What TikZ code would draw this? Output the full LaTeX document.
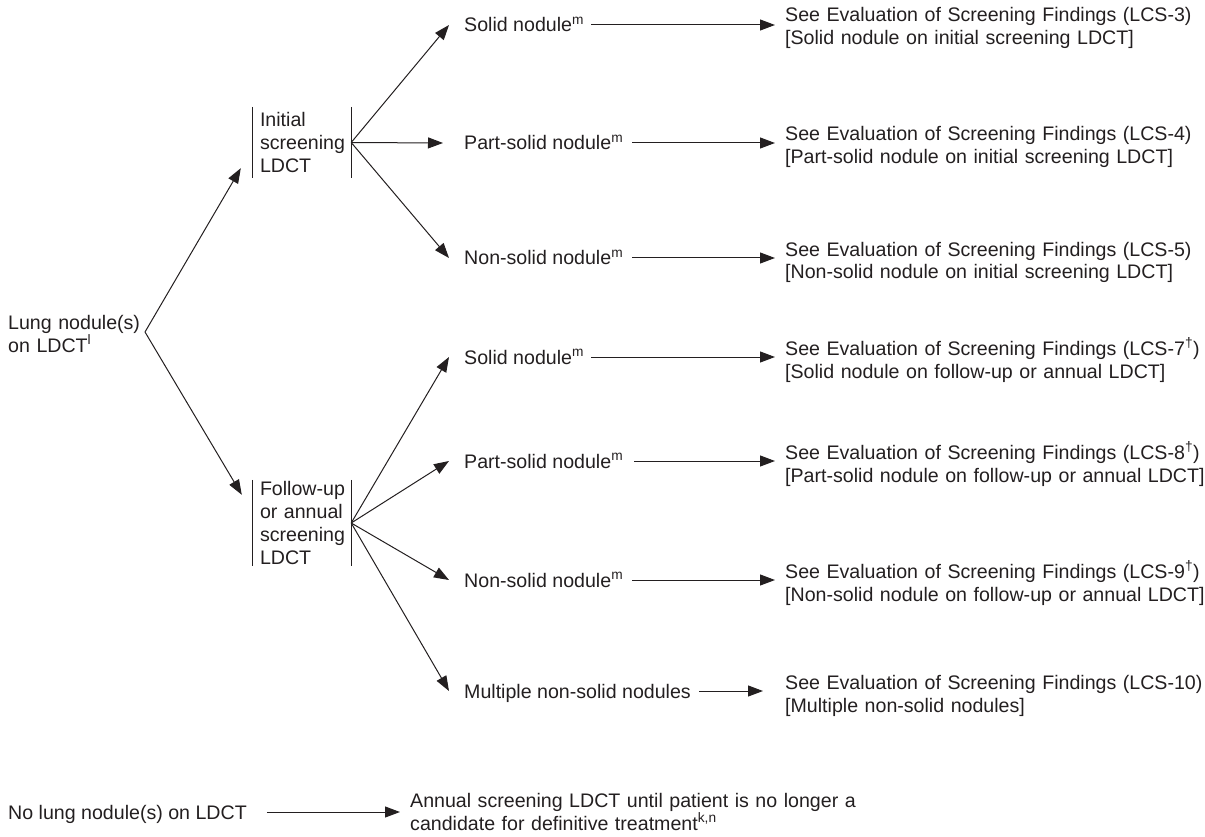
\documentclass[tikz,border=0pt]{standalone}
\usepackage{fontspec}
\setmainfont{Liberation Sans}
\usetikzlibrary{arrows.meta,calc}
\definecolor{ink}{RGB}{35,31,32}
\begin{document}
\begin{tikzpicture}[x=1pt,y=-1pt,
  every node/.style={font=\fontsize{19.6}{23}\selectfont, text=ink, inner sep=0pt},
  lbl/.style={anchor=west, text height=17pt, text depth=3pt},
  blk/.style={anchor=base west, text width=480pt, align=left},
  box/.style={text width=91pt, align=left, inner xsep=0pt, inner ysep=0pt},
  conn/.style={draw=ink, line width=1pt, -{Triangle[length=15pt,width=11pt]}},
  bar/.style={draw=ink, line width=1pt}]
\useasboundingbox (0,0) rectangle (1205,837);

% root
\node[blk, text width=160pt] (root) at (8,329) {Lung nodule(s)\\on LDCT\textsuperscript{l}};
\coordinate (rf) at (145,332);

% screening boxes
\node[box, minimum height=71pt] (init) at (305.5,142.5) {Initial\\screening\\LDCT};
\node[box, minimum height=86pt] (fu) at (305.5,523) {Follow-up\\or annual\\screening\\LDCT};
\draw[bar] ([xshift=-7pt]init.north west) -- ([xshift=-7pt]init.south west);
\draw[bar] (init.north east) -- (init.south east);
\draw[bar] ([xshift=-7pt]fu.north west) -- ([xshift=-7pt]fu.south west);
\draw[bar] (fu.north east) -- (fu.south east);

\draw[conn] (rf) -- ($(init.south west)+(-19,-10)$);
\draw[conn] (rf) -- ($(fu.north west)+(-18,15)$);

% nodule types
\node[lbl] (a) at (464,25) {Solid nodule\textsuperscript{m}};
\node[lbl] (b) at (464,143) {Part-solid nodule\textsuperscript{m}};
\node[lbl] (c) at (464,258) {Non-solid nodule\textsuperscript{m}};
\node[lbl] (d) at (464,357) {Solid nodule\textsuperscript{m}};
\node[lbl] (e) at (464,461) {Part-solid nodule\textsuperscript{m}};
\node[lbl] (f) at (464,580) {Non-solid nodule\textsuperscript{m}};
\node[lbl] (g) at (464,691) {Multiple non-solid nodules};

% outcomes
\node[blk] (ra) at (785,22) {See Evaluation of Screening Findings (LCS-3)\\\relax [Solid nodule on initial screening LDCT]};
\node[blk] (rb) at (785,141) {See Evaluation of Screening Findings (LCS-4)\\\relax [Part-solid nodule on initial screening LDCT]};
\node[blk] (rc) at (785,256) {See Evaluation of Screening Findings (LCS-5)\\\relax [Non-solid nodule on initial screening LDCT]};
\node[blk] (rd) at (785,355) {See Evaluation of Screening Findings (LCS-7\textsuperscript{†})\\\relax [Solid nodule on follow-up or annual LDCT]};
\node[blk] (re) at (785,459) {See Evaluation of Screening Findings (LCS-8\textsuperscript{†})\\\relax [Part-solid nodule on follow-up or annual LDCT]};
\node[blk] (rf2) at (785,578) {See Evaluation of Screening Findings (LCS-9\textsuperscript{†})\\\relax [Non-solid nodule on follow-up or annual LDCT]};
\node[blk] (rg) at (785,689) {See Evaluation of Screening Findings (LCS-10)\\\relax [Multiple non-solid nodules]};

% fork arrows
\draw[conn] (init.east) -- ([xshift=-15pt]a.west);
\draw[conn] (init.east) -- ([xshift=-21pt]b.west);
\draw[conn] (init.east) -- ([xshift=-15pt]c.west);
\draw[conn] (fu.east) -- ([xshift=-15pt]d.west);
\draw[conn] (fu.east) -- ([xshift=-15pt]e.west);
\draw[conn] (fu.east) -- ([xshift=-15pt]f.west);
\draw[conn] (fu.east) -- ([xshift=-15pt]g.west);

% horizontal arrows
\draw[conn] ($(a.east)+(7,0)$) -- ($(a.east -| ra.west)+(-10,0)$);
\draw[conn] ($(b.east)+(9,0)$) -- ($(b.east -| rb.west)+(-10,0)$);
\draw[conn] ($(c.east)+(9,0)$) -- ($(c.east -| rc.west)+(-10,0)$);
\draw[conn] ($(d.east)+(7,0)$) -- ($(d.east -| rd.west)+(-10,0)$);
\draw[conn] ($(e.east)+(11,0)$) -- ($(e.east -| re.west)+(-10,0)$);
\draw[conn] ($(f.east)+(9,0)$) -- ($(f.east -| rf2.west)+(-10,0)$);
\draw[conn] ($(g.east)+(8,0)$) -- ($(g.east -| rg.west)+(-22,0)$);

% no nodule
\node[lbl] (no) at (8,812) {No lung nodule(s) on LDCT};
\node[blk] (ann) at (410,807) {Annual screening LDCT until patient is no longer a\\candidate for definitive treatment\textsuperscript{k,n}};
\draw[conn] ($(no.east)+(20,0)$) -- ($(no.east -| ann.west)+(-10,0)$);
\end{tikzpicture}
\end{document}
